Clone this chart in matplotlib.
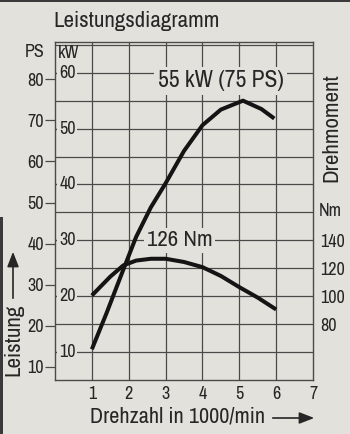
import matplotlib
matplotlib.use("Agg")
import matplotlib.pyplot as plt
import numpy as np

# ---- data ----
power_rpm = [1.0, 1.4, 1.85, 2.2, 2.6, 3.0, 3.5, 4.0, 4.5, 5.1, 5.6, 5.95]
power_kw = [10.5, 17.0, 24.7, 30.6, 35.9, 40.2, 46.0, 50.6, 53.4, 55.0, 53.5, 51.8]
torque_rpm = [1.0, 1.5, 1.85, 2.2, 2.6, 3.0, 3.5, 4.0, 4.5, 5.0, 5.5, 6.0]
torque_nm = [100.5, 114.0, 122.0, 125.5, 126.8, 126.8, 124.5, 120.8, 114.5, 106.5, 99.0, 90.5]
x_ticks = [1, 2, 3, 4, 5, 6, 7]
kw_ticks = [10, 20, 30, 40, 50, 60]
ps_ticks = [10, 20, 30, 40, 50, 60, 70, 80]
nm_ticks = [80, 100, 120, 140]
title = "Leistungsdiagramm"
power_label = "55 kW (75 PS)"
torque_label = "126 Nm"

FONT = ['Archivo Narrow', 'DejaVu Sans']
plt.rcParams['font.family'] = FONT
BG = '#e3e1db'
INK = '#262626'
GRID = '#4a4a4a'

W, H = 350, 434
fig = plt.figure(figsize=(W / 100, H / 100), dpi=100, facecolor=BG)
ax = fig.add_axes([55 / W, 1 - 380 / H, (313 - 55) / W, (380 - 42) / H])
ax.set_facecolor(BG)

kw2ps = lambda v: np.asarray(v) * 1.36
ps2kw = lambda v: np.asarray(v) / 1.36
kw2nm = lambda v: np.asarray(v) * 4 + 20
nm2kw = lambda v: (np.asarray(v) - 20) / 4

ax.set_xlim(0, 7)
ax.set_ylim(5, 65.5)

# grid
ax.set_xticks(x_ticks)
ax.set_xticklabels([str(t) for t in x_ticks], fontsize=13, color=INK)
ax.tick_params(axis='x', length=0, pad=4)
ax.set_yticks(kw_ticks)
ax.set_yticks(np.arange(5, 66, 5), minor=True)
ax.tick_params(axis='y', which='major', direction='in', length=4, width=0.9,
               color=GRID, labelleft=False)
ax.tick_params(axis='y', which='minor', length=0)
for v in np.arange(1, 7):
    ax.axvline(v, color=GRID, lw=0.9, zorder=1)
for v in np.arange(10, 66, 5):
    ax.axhline(v, color=GRID, lw=0.9, zorder=1)
for s in ax.spines.values():
    s.set_color(GRID)
    s.set_linewidth(1.0)

# kW labels inside the axes
for v in kw_ticks:
    ax.annotate(str(v), xy=(0, v), xycoords=('axes fraction', 'data'),
                xytext=(3, 0), textcoords='offset points', ha='left', va='center',
                fontsize=13, color=INK, zorder=4,
                bbox=dict(boxstyle='square,pad=0.1', fc=BG, ec='none'))
ax.text(3 / 258, 1 - 11 / 338, 'kW', transform=ax.transAxes, ha='left', va='center',
        fontsize=13, color=INK)

# PS axis
ps = ax.secondary_yaxis('left', functions=(kw2ps, ps2kw))
ps.set_yticks(ps_ticks)
ps.set_yticklabels([str(t) for t in ps_ticks], fontsize=13, color=INK)
ps.tick_params(length=7, width=0.9, color=GRID, pad=1)
ps.spines['left'].set_visible(False)
fig.text(35 / W, 1 - 52 / H, 'PS', ha='center', va='center', fontsize=13, color=INK)

# Nm axis
nm = ax.secondary_yaxis('right', functions=(kw2nm, nm2kw))
nm.set_yticks(nm_ticks)
nm.set_yticklabels([str(t) for t in nm_ticks], fontsize=13, color=INK)
nm.tick_params(length=0, pad=5)
nm.spines['right'].set_visible(False)
fig.text(319 / W, 1 - 211 / H, 'Nm', ha='left', va='center', fontsize=13, color=INK)
fig.text(331 / W, 1 - 128 / H, 'Drehmoment', rotation=90, ha='center', va='center',
         fontsize=16.5, color=INK)

# curves
ax.plot(power_rpm, power_kw, color='#141414', lw=2.9, solid_capstyle='butt', zorder=3)
ax.plot(torque_rpm, nm2kw(torque_nm), color='#141414', lw=2.9, solid_capstyle='butt', zorder=3)

ax.text(4.5, 58.6, power_label, ha='center', va='center', fontsize=17, color=INK, zorder=4,
        bbox=dict(boxstyle='square,pad=0.15', fc=BG, ec='none'))
ax.text(3.38, 30.0, torque_label, ha='center', va='center', fontsize=16.5, color=INK, zorder=4,
        bbox=dict(boxstyle='square,pad=0.1', fc=BG, ec='none'))

# title
fig.text(53 / W, 1 - 21 / H, title, ha='left', va='center', fontsize=16.5, color=INK)

# y label with arrow
fig.text(13 / W, 1 - 340 / H, 'Leistung', rotation=90, ha='center', va='center',
         fontsize=16.5, color=INK)
fig.add_artist(matplotlib.patches.FancyArrowPatch(
    (13 / W, 1 - 301 / H), (13 / W, 1 - 249 / H), transform=fig.transFigure,
    arrowstyle='-|>,head_length=9,head_width=3.5', color=INK, lw=1.2, mutation_scale=1))

# x label with arrow
fig.text(90 / W, 1 - 417 / H, 'Drehzahl in 1000/min', ha='left', va='center',
         fontsize=16, color=INK)
fig.add_artist(matplotlib.patches.FancyArrowPatch(
    (270 / W, 1 - 418 / H), (317 / W, 1 - 418 / H), transform=fig.transFigure,
    arrowstyle='-|>,head_length=9,head_width=3.5', color=INK, lw=1.2, mutation_scale=1))

# dark scan edges
fig.add_artist(matplotlib.patches.Rectangle((0, 1 - 2 / H), 1, 2 / H, transform=fig.transFigure,
                                            color='#3a3a3a', lw=0))
fig.add_artist(matplotlib.patches.Rectangle((0, 0), 2.5 / W, 0.5, transform=fig.transFigure,
                                            color='#3a3a3a', lw=0))

fig.savefig('out.png', dpi=100, facecolor=BG)
